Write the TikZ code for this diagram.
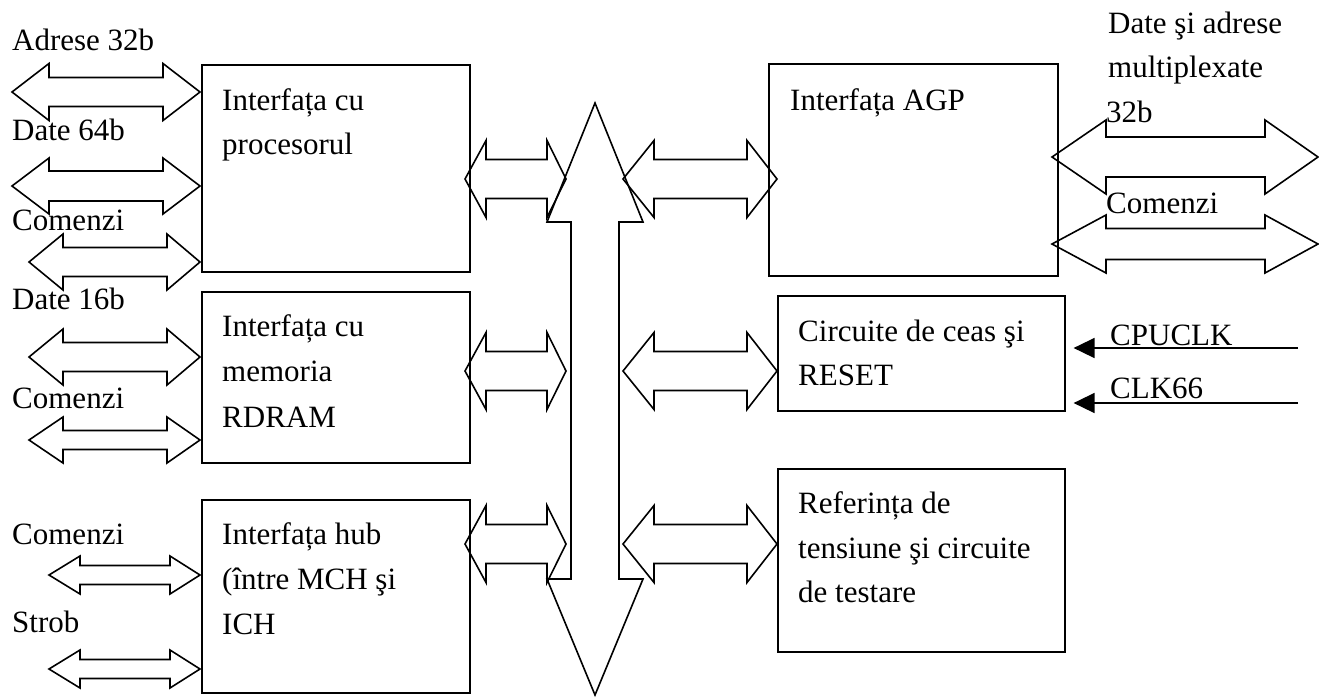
\documentclass[tikz,border=0pt]{standalone}
\usepackage{fontspec}
\setmainfont{Liberation Serif}
\usetikzlibrary{arrows.meta}

% Outlined two-headed block arrow:
% #1 left tip x, #2 right tip x, #3 centre y, #4 left head length,
% #5 right head length, #6 head half-height, #7 shaft half-height
\newcommand\biarrow[7]{%
  \draw[blockline] (#1,#3) -- ({#1+#4},{#3-#6}) -- ({#1+#4},{#3-#7})
    -- ({#2-#5},{#3-#7}) -- ({#2-#5},{#3-#6}) -- (#2,#3)
    -- ({#2-#5},{#3+#6}) -- ({#2-#5},{#3+#7}) -- ({#1+#4},{#3+#7})
    -- ({#1+#4},{#3+#6}) -- cycle;}

\tikzset{
  blockline/.style={line width=1.6pt, line join=miter},
  unit/.style={draw, line width=1.6pt, inner sep=0pt, anchor=north west},
  txt/.style={anchor=base west, inner sep=0pt, font=\fontsize{31}{44}\selectfont},
  clkarrow/.style={line width=1.6pt, -{Triangle[length=21pt,width=20pt]}}
}

\begin{document}
\begin{tikzpicture}[x=1pt, y=-1pt]
\useasboundingbox (0,0) rectangle (1319,697);

% functional units
\node[unit, minimum width=268, minimum height=207] (cpu)  at (201,64)  {};
\node[unit, minimum width=268, minimum height=171] (mem)  at (201,291) {};
\node[unit, minimum width=268, minimum height=193] (hub)  at (201,499) {};
\node[unit, minimum width=289, minimum height=212] (agp)  at (768,63)  {};
\node[unit, minimum width=287, minimum height=115] (clk)  at (777,295) {};
\node[unit, minimum width=287, minimum height=183] (vref) at (777,468) {};

% unit titles
\node[txt] (cpu1) at (222,110) {Interfața cu};
\node[txt] (cpu2) at (222,154) {procesorul};
\node[txt] (mem1) at (222,336) {Interfața cu};
\node[txt] (mem2) at (222,381) {memoria};
\node[txt] (mem3) at (222,427) {RDRAM};
\node[txt] (hub1) at (222,544) {Interfața hub};
\node[txt] (hub2) at (222,589) {(între MCH şi};
\node[txt] (hub3) at (222,634) {ICH};
\node[txt] (agp1) at (790,110) {Interfața AGP};
\node[txt] (clk1) at (798,341) {Circuite de ceas şi};
\node[txt] (clk2) at (798,385) {RESET};
\node[txt] (vref1) at (798,513) {Referința de};
\node[txt] (vref2) at (798,558) {tensiune şi circuite};
\node[txt] (vref3) at (798,602) {de testare};

% external buses on the left
\node[txt] (lA) at (12,50)  {Adrese 32b};
\node[txt] (lB) at (12,140) {Date 64b};
\node[txt] (lC) at (12,230) {Comenzi};
\node[txt] (lD) at (12,309) {Date 16b};
\node[txt] (lE) at (12,408) {Comenzi};
\node[txt] (lF) at (12,544) {Comenzi};
\node[txt] (lG) at (12,632) {Strob};
\biarrow{12}{200}{92}{37}{37}{28.5}{14.5}
\biarrow{12}{200}{186}{37}{37}{28}{15}
\biarrow{29}{200}{262}{34}{33}{28}{14.5}
\biarrow{29}{200}{357}{34}{33}{28}{14.5}
\biarrow{29}{200}{440}{34}{33}{23}{9.5}
\biarrow{49}{200}{575}{31}{30}{19}{9.5}
\biarrow{49}{200}{669}{31}{30}{19}{9.5}

% AGP port buses
\node[txt] (rA1) at (1108,33)  {Date şi adrese};
\node[txt] (rA2) at (1108,77)  {multiplexate};
\node[txt] (rA3) at (1106,122) {32b};
\node[txt] (rB)  at (1106,213) {Comenzi};
\biarrow{1052}{1318}{157}{54}{53}{37}{20}
\biarrow{1052}{1318}{244}{54}{53}{29}{15.5}

% internal bus
\draw[blockline] (595,103) -- (643,222) -- (619,222) -- (619,579) -- (643,579)
  -- (595,695) -- (547,579) -- (571,579) -- (571,222) -- (547,222) -- cycle;

% unit-to-bus links
\biarrow{465}{566}{179}{21}{19}{38.5}{19.5}
\biarrow{623}{777}{179}{31}{30}{38.5}{19.5}
\biarrow{465}{566}{371}{21}{19}{38.5}{19.5}
\biarrow{623}{777}{371}{31}{30}{38.5}{19.5}
\biarrow{465}{566}{544}{21}{19}{38.5}{19.5}
\biarrow{623}{777}{544}{31}{30}{38.5}{19.5}

% clock inputs
\node[txt] (cpuclk) at (1110,345) {CPUCLK};
\node[txt] (clk66)  at (1110,398) {CLK66};
\coordinate (cpuclkin) at (1298,348);
\coordinate (clk66in)  at (1298,403);
\draw[clkarrow] (cpuclkin) -- ([xshift=8pt]clk.east |- cpuclkin);
\draw[clkarrow] (clk66in)  -- ([xshift=8pt]clk.east |- clk66in);
\end{tikzpicture}
\end{document}
